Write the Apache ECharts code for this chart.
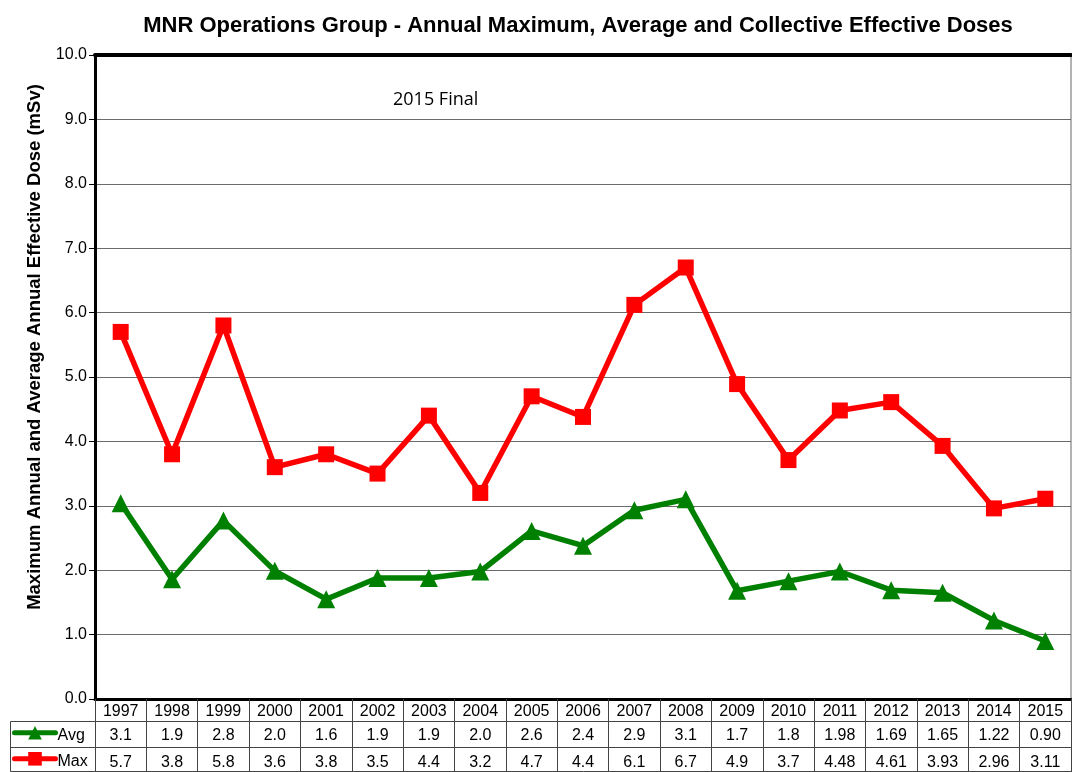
<!DOCTYPE html>
<html><head><meta charset="utf-8">
<script src="https://cdn.jsdelivr.net/npm/echarts@6/dist/echarts.min.js"></script>
<style>html,body{margin:0;padding:0;background:#fff}#c{width:1072px;height:772px}</style>
</head><body><div id="c"></div>
<script>
var years = ['1997','1998','1999','2000','2001','2002','2003','2004','2005','2006','2007','2008','2009','2010','2011','2012','2013','2014','2015'];
var avgValues = [3.04,1.86,2.77,1.99,1.55,1.88,1.88,1.98,2.61,2.38,2.93,3.1,1.68,1.83,1.98,1.69,1.65,1.22,0.90];
var maxValues = [5.7,3.8,5.8,3.6,3.8,3.5,4.4,3.2,4.7,4.38,6.12,6.7,4.89,3.71,4.48,4.61,3.93,2.96,3.11];
var avgTable = ['3.1','1.9','2.8','2.0','1.6','1.9','1.9','2.0','2.6','2.4','2.9','3.1','1.7','1.8','1.98','1.69','1.65','1.22','0.90'];
var maxTable = ['5.7','3.8','5.8','3.6','3.8','3.5','4.4','3.2','4.7','4.4','6.1','6.7','4.9','3.7','4.48','4.61','3.93','2.96','3.11'];
var yTicks = {min: 0, max: 10, interval: 1};

var F = 'Liberation Sans, Arial, sans-serif';
var chart = echarts.init(document.getElementById('c'), null, {renderer: 'canvas'});
var rowAxis = function (data, offset, margin, lineShow) {
  return {
    type: 'category', data: data, position: 'bottom', offset: offset, boundaryGap: true,
    axisLine: {show: lineShow, lineStyle: {color: '#444', width: 1}},
    axisTick: {show: false},
    axisLabel: {interval: 0, margin: margin, color: '#000', fontFamily: F, fontSize: 16},
    splitLine: {show: false}
  };
};
var legendBase = function (name, top) {
  return {
    left: 12, top: top, itemWidth: 41, itemHeight: 17, itemGap: 2, padding: 0,
    data: [name],
    lineStyle: {width: 5, cap: 'round'},
    formatter: '{t|{name}}',
    textStyle: {fontFamily: F, fontSize: 16, color: '#000',
      rich: {t: {fontFamily: F, fontSize: 16, color: '#000', padding: [6, 0, 0, -3]}}}
  };
};
chart.setOption({
  animation: false,
  backgroundColor: '#fff',
  title: {
    text: 'MNR Operations Group - Annual Maximum, Average and Collective Effective Doses',
    left: 573, top: 10, textAlign: 'center',
    textStyle: {fontFamily: F, fontSize: 22, fontWeight: 'bold', color: '#000'}
  },
  grid: {left: 95, right: 1, top: 55, bottom: 73, show: true, borderColor: '#666', borderWidth: 1, containLabel: false},
  legend: [legendBase('Avg', 726), legendBase('Max', 752)],
  xAxis: [
    {
      type: 'category', data: years, position: 'bottom', boundaryGap: true,
      axisLine: {show: true, lineStyle: {color: '#000', width: 3}},
      axisTick: {show: true, interval: 0, length: 73, lineStyle: {color: '#444', width: 1}},
      axisLabel: {interval: 0, margin: 5, color: '#000', fontFamily: F, fontSize: 16},
      splitLine: {show: false}
    },
    rowAxis(avgTable, 22, 7, true),
    rowAxis(maxTable, 48, 8, true),
    {
      type: 'category', data: years, position: 'top', boundaryGap: true,
      axisLine: {show: true, lineStyle: {color: '#000', width: 4}},
      axisTick: {show: false}, axisLabel: {show: false}
    }
  ],
  yAxis: {
    type: 'value', min: yTicks.min, max: yTicks.max, interval: yTicks.interval,
    name: 'Maximum Annual and Average Annual Effective Dose (mSv)',
    nameLocation: 'middle', nameGap: 51,
    nameTextStyle: {fontFamily: F, fontSize: 18.5, fontWeight: 'bold', color: '#000', padding: [0, 0, 0, 60]},
    axisLine: {show: true, lineStyle: {color: '#000', width: 3}},
    axisTick: {show: true, length: 6, lineStyle: {color: '#000', width: 1}},
    axisLabel: {color: '#000', fontFamily: F, fontSize: 16, margin: 8, formatter: function (v) { return v.toFixed(1); }},
    splitLine: {show: true, lineStyle: {color: '#6a6a6a', width: 1}}
  },
  graphic: [
    {type: 'text', left: 393, top: 91, style: {text: '2015 Final', font: '18px "Open Sans", sans-serif', fill: '#000'}},
    {type: 'rect', shape: {x: 10.5, y: 721.5, width: 85, height: 50}, style: {fill: 'none', stroke: '#444', lineWidth: 1}},
    {type: 'line', shape: {x1: 10, y1: 747.5, x2: 95, y2: 747.5}, style: {stroke: '#444', lineWidth: 1}},
    {type: 'line', shape: {x1: 95, y1: 771.5, x2: 1072, y2: 771.5}, style: {stroke: '#444', lineWidth: 1}}
  ],
  series: [
    {
      name: 'Avg', type: 'line', data: avgValues, xAxisIndex: 0,
      symbol: 'triangle', symbolSize: 18,
      lineStyle: {color: '#008000', width: 5.5},
      itemStyle: {color: '#008000'}
    },
    {
      name: 'Max', type: 'line', data: maxValues, xAxisIndex: 0,
      symbol: 'rect', symbolSize: 16,
      lineStyle: {color: '#ff0000', width: 5.5},
      itemStyle: {color: '#ff0000'}
    }
  ]
});
</script></body></html>
